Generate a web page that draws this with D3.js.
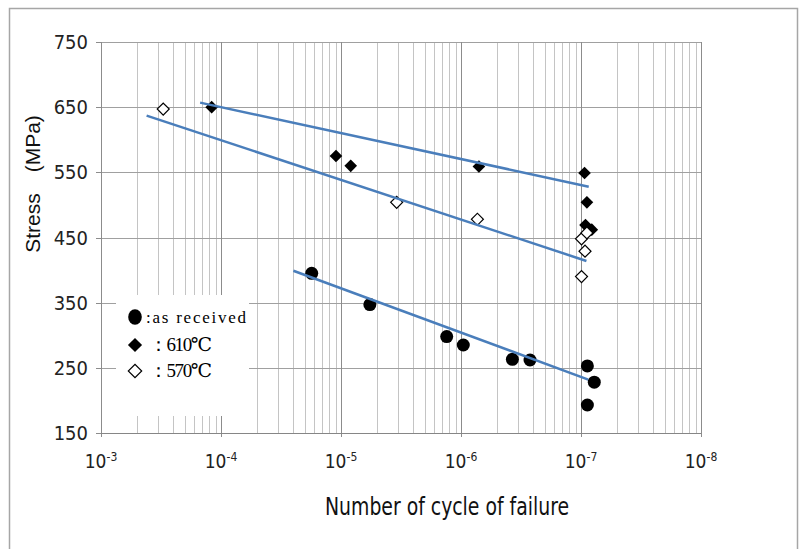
<!DOCTYPE html>
<html>
<head>
  <script src="https://d3js.org/d3.v7.min.js"></script>
  <style type="text/css">
    body { margin: 0; background: #fff; }
    .tick-lbl { font-family: "Liberation Sans Narrow", "DejaVu Sans Condensed", sans-serif; fill: #222; }
    .ttl { font-family: "Liberation Sans", Arial, sans-serif; fill: #111; }
    .leg { font-family: "Liberation Serif", "DejaVu Serif", serif; fill: #000; }
  </style>
</head>
<body>
<svg id="chart" width="800" height="549"></svg>

<script type="text/javascript">
// S-N data (cycles, MPa)

const decades = [3, 4, 5, 6, 7, 8];
const stressTicks = [150, 250, 350, 450, 550, 650, 750];

const arN = [57000, 174000, 760000, 1045000, 2680000, 3760000, 11300000, 12900000, 11300000];
const arS = [395, 347, 298, 285, 263, 262, 253, 228, 193];

const n610 = [8360, 90800, 120500, 1410000, 10700000, 11200000, 10900000, 12300000];
const s610 = [650, 575, 560, 559, 549, 504, 469, 462];

const n570 = [3300, 291000, 1370000, 10100000, 11200000, 10800000, 10100000];
const s570 = [647, 504, 478, 448, 457, 429, 390];

// trend lines, two ends each
const trendAr = [[40100, 399], [11500000, 232]];
const trend610 = [[6700, 657], [11600000, 528]];
const trend570 = [[2400, 637], [11100000, 414]];

const legendItems = [
  { type: 'circle', label: ':as received' },
  { type: 'filled', label: '\uff1a610\u2103' },
  { type: 'open', label: '\uff1a570\u2103' }
];

var svg = d3.select('#chart');

// outer frame
svg.append('rect')
  .attr('x', 9.5).attr('y', 8.5)
  .attr('width', 788).attr('height', 560)
  .attr('fill', 'none')
  .attr('stroke', '#a6a6a6')
  .attr('stroke-width', 1.5);

var x = d3.scaleLog().domain([1e3, 1e8]).range([101, 701]);
var y = d3.scaleLinear().domain([150, 750]).range([433, 42]);

var grid = svg.append('g');

// minor vertical grid 2..9 per decade
var minor = [];
decades.slice(0, -1).forEach(d => {
  for (let k = 2; k <= 9; k++) minor.push(k * Math.pow(10, d));
});

grid.selectAll('.minor').data(minor)
  .enter().append('line')
  .attr('class', 'minor')
  .attr('x1', d => Math.round(x(d)) + 0.5).attr('x2', d => Math.round(x(d)) + 0.5)
  .attr('y1', y(750)).attr('y2', y(150))
  .attr('stroke', '#c4c4c4');

grid.selectAll('.hgrid').data(stressTicks)
  .enter().append('line')
  .attr('class', 'hgrid')
  .attr('x1', x(1e3)).attr('x2', x(1e8))
  .attr('y1', d => Math.round(y(d)) + 0.5).attr('y2', d => Math.round(y(d)) + 0.5)
  .attr('stroke', '#a0a0a0');

grid.selectAll('.major').data(decades)
  .enter().append('line')
  .attr('class', 'major')
  .attr('x1', d => Math.round(x(Math.pow(10, d))) + 0.5)
  .attr('x2', d => Math.round(x(Math.pow(10, d))) + 0.5)
  .attr('y1', y(750)).attr('y2', y(150) + 4)
  .attr('stroke', '#8c8c8c');

// y ticks
grid.selectAll('.ytick').data(stressTicks)
  .enter().append('line')
  .attr('x1', 96).attr('x2', x(1e3))
  .attr('y1', d => Math.round(y(d)) + 0.5).attr('y2', d => Math.round(y(d)) + 0.5)
  .attr('stroke', '#8c8c8c');

// axis lines
grid.append('line')
  .attr('x1', x(1e3)).attr('x2', x(1e8))
  .attr('y1', Math.round(y(150)) + 0.5).attr('y2', Math.round(y(150)) + 0.5)
  .attr('stroke', '#868686');

// legend box covers the grid
svg.append('rect')
  .attr('x', 116).attr('y', 295)
  .attr('width', 133).attr('height', 121)
  .attr('fill', '#fff');

// y labels
svg.selectAll('.ylbl').data(stressTicks)
  .enter().append('text')
  .attr('class', 'tick-lbl')
  .attr('x', 88)
  .attr('y', d => y(d) + 7)
  .attr('text-anchor', 'end')
  .style('font-size', '20px')
  .text(d => d);

// x labels 10^-n as in the original
var xl = svg.selectAll('.xlbl').data(decades)
  .enter().append('text')
  .attr('class', 'tick-lbl')
  .attr('x', d => x(Math.pow(10, d)))
  .attr('y', 468)
  .attr('text-anchor', 'middle')
  .style('font-size', '19px');
xl.append('tspan').text('10');
xl.append('tspan')
  .attr('dy', -7)
  .style('font-size', '12px')
  .text(d => '-' + d);

// titles
svg.append('text')
  .attr('class', 'ttl')
  .attr('transform', 'translate(40,184) rotate(-90)')
  .attr('text-anchor', 'middle')
  .style('font-size', '21px')
  .text('Stress\u3000(MPa)');

svg.append('text')
  .attr('class', 'ttl')
  .attr('x', 325).attr('y', 515)
  .attr('textLength', 244)
  .attr('lengthAdjust', 'spacingAndGlyphs')
  .style('font-family', '"Liberation Sans Narrow", "DejaVu Sans Condensed", sans-serif')
  .style('font-size', '24px')
  .text('Number of cycle of failure');

// markers
var diamond = s => d3.symbol().type(d3.symbolSquare).size(s)();

svg.append('g').selectAll('circle').data(d3.zip(arN, arS))
  .enter().append('circle')
  .attr('cx', d => x(d[0])).attr('cy', d => y(d[1]))
  .attr('r', 6.5)
  .attr('fill', '#000');

svg.append('g').selectAll('path').data(d3.zip(n610, s610))
  .enter().append('path')
  .attr('d', diamond(80))
  .attr('transform', d => `translate(${x(d[0])},${y(d[1])}) rotate(45)`)
  .attr('fill', '#000');

svg.append('g').selectAll('path').data(d3.zip(n570, s570))
  .enter().append('path')
  .attr('d', diamond(72))
  .attr('transform', d => `translate(${x(d[0])},${y(d[1])}) rotate(45)`)
  .attr('fill', '#fff')
  .attr('stroke', '#000')
  .attr('stroke-width', 1.2);

// trend lines on top, like Excel
var line = d3.line().x(d => x(d[0])).y(d => y(d[1]));
svg.append('g').selectAll('path').data([trendAr, trend610, trend570])
  .enter().append('path')
  .attr('d', line)
  .attr('fill', 'none')
  .attr('stroke', '#4a7ebb')
  .attr('stroke-width', 2.5);

// legend
var leg = svg.append('g').selectAll('g').data(legendItems)
  .enter().append('g')
  .attr('transform', (d, i) => `translate(135,${[317, 345, 371][i]})`);

leg.each(function(d) {
  var g = d3.select(this);
  if (d.type == 'circle') {
    g.append('ellipse').attr('rx', 6.8).attr('ry', 7.8).attr('fill', '#000');
  } else {
    g.append('path')
      .attr('d', diamond(d.type == 'filled' ? 100 : 90))
      .attr('transform', 'rotate(45)')
      .attr('fill', d.type == 'filled' ? '#000' : '#fff')
      .attr('stroke', '#000')
      .attr('stroke-width', d.type == 'filled' ? 0 : 1.2);
  }
});

leg.append('text')
  .attr('class', 'leg')
  .attr('x', (d, i) => i == 0 ? 11 : 14)
  .attr('y', 6)
  .attr('textLength', (d, i) => i == 0 ? 100 : 63)
  .attr('lengthAdjust', 'spacing')
  .style('font-size', (d, i) => i == 0 ? '17px' : '19px')
  .text(d => d.label);
</script>
</body>
</html>
